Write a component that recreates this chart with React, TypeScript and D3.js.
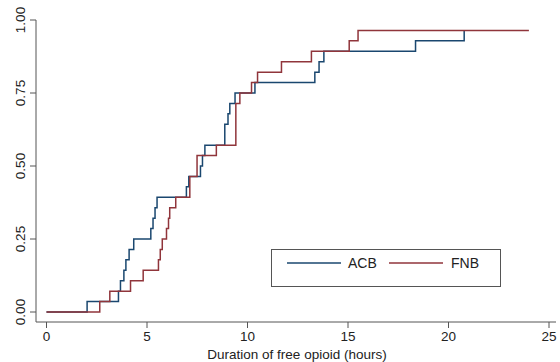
import React, { useEffect, useRef } from "react";
import * as d3 from "d3";

// cumulative proportion, step after each time (hours)
const acbTimes = [0, 2.02, 3.58, 3.68, 3.85, 3.95, 4.11, 4.34, 5.19, 5.3, 5.4, 5.5, 6.96, 7.08, 7.66, 7.76, 7.88, 8.87, 9.03, 9.12, 9.38, 10.37, 13.35, 13.56, 13.8, 18.36, 20.78];
const acbValues = [0, 0.036, 0.071, 0.107, 0.143, 0.179, 0.214, 0.25, 0.286, 0.321, 0.357, 0.393, 0.429, 0.464, 0.5, 0.536, 0.571, 0.643, 0.679, 0.714, 0.75, 0.786, 0.821, 0.857, 0.893, 0.929, 0.964];

const fnbTimes = [0, 2.65, 3.15, 4.18, 4.81, 5.57, 5.66, 5.76, 5.97, 6.07, 6.13, 6.43, 7.13, 7.49, 8.45, 9.42, 9.62, 10.2, 10.5, 11.69, 13.18, 15.06, 15.5, 24];
const fnbValues = [0, 0.036, 0.071, 0.107, 0.143, 0.179, 0.214, 0.25, 0.286, 0.321, 0.357, 0.393, 0.464, 0.536, 0.571, 0.714, 0.75, 0.786, 0.821, 0.857, 0.893, 0.929, 0.964, 0.964];

const xTicks = [0, 5, 10, 15, 20, 25];
const yTicks = [0, 0.25, 0.5, 0.75, 1];

const series = [
  { name: "ACB", times: acbTimes, values: acbValues, color: "#1a476f" },
  { name: "FNB", times: fnbTimes, values: fnbValues, color: "#90353b" },
];

const App: React.FC = () => {
  const svgRef = useRef<SVGSVGElement | null>(null);

  useEffect(() => {
    if (!svgRef.current) return;
    const svg = d3.select(svgRef.current);
    svg.selectAll("*").remove();

    const font = "'Liberation Sans', Arial, sans-serif";
    const axisColor = "#555";

    const x = d3.scaleLinear().domain([0, 25]).range([46.5, 549]);
    const y = d3.scaleLinear().domain([0, 1]).range([312, 20]);

    const axisLeftX = 36;
    const axisBottomY = 322;

    // y axis
    const yAxis = svg.append("g").attr("transform", `translate(${axisLeftX},0)`);
    yAxis.append("line").attr("y1", 20).attr("y2", axisBottomY).attr("stroke", axisColor);
    yAxis
      .selectAll(".yt")
      .data(yTicks)
      .enter()
      .append("line")
      .attr("x1", -6)
      .attr("x2", 0)
      .attr("y1", (d) => y(d))
      .attr("y2", (d) => y(d))
      .attr("stroke", axisColor);
    svg
      .selectAll(".ylab")
      .data(yTicks)
      .enter()
      .append("text")
      .attr("transform", (d) => `translate(25,${y(d)}) rotate(-90)`)
      .attr("text-anchor", "middle")
      .style("font-family", font)
      .style("font-size", "13.5px")
      .attr("fill", "#222")
      .text((d) => d3.format(".2f")(d));

    // x axis
    const xAxis = svg.append("g").attr("transform", `translate(0,${axisBottomY})`);
    xAxis.append("line").attr("x1", axisLeftX).attr("x2", 556).attr("stroke", axisColor);
    xAxis
      .selectAll(".xt")
      .data(xTicks)
      .enter()
      .append("line")
      .attr("x1", (d) => x(d))
      .attr("x2", (d) => x(d))
      .attr("y1", 0)
      .attr("y2", 6)
      .attr("stroke", axisColor);
    xAxis
      .selectAll(".xlab")
      .data(xTicks)
      .enter()
      .append("text")
      .attr("x", (d) => x(d))
      .attr("y", 19)
      .attr("text-anchor", "middle")
      .style("font-family", font)
      .style("font-size", "13.5px")
      .attr("fill", "#222")
      .text((d) => d);

    svg
      .append("text")
      .attr("x", 297)
      .attr("y", 358.5)
      .attr("text-anchor", "middle")
      .style("font-family", font)
      .style("font-size", "13.5px")
      .attr("fill", "#222")
      .text("Duration of free opioid (hours)");

    // step curves
    const line = d3
      .line<[number, number]>()
      .x((d) => x(d[0]))
      .y((d) => y(d[1]))
      .curve(d3.curveStepAfter);

    series.forEach((s) => {
      const pts: [number, number][] = s.times.map((t, i) => [t, s.values[i]]);
      svg
        .append("path")
        .attr("d", line(pts)!)
        .attr("fill", "none")
        .attr("stroke", s.color)
        .attr("stroke-width", 1.5);
    });

    // legend
    const lg = svg.append("g");
    lg.append("rect")
      .attr("x", 271.5)
      .attr("y", 249.5)
      .attr("width", 229)
      .attr("height", 37)
      .attr("fill", "white")
      .attr("stroke", axisColor);
    const items = [
      { ...series[0], x1: 287, tx: 348 },
      { ...series[1], x1: 389, tx: 451 },
    ];
    items.forEach((it) => {
      lg.append("line")
        .attr("x1", it.x1)
        .attr("x2", it.x1 + 54)
        .attr("y1", 263)
        .attr("y2", 263)
        .attr("stroke", it.color)
        .attr("stroke-width", 1.5);
      lg.append("text")
        .attr("x", it.tx)
        .attr("y", 268)
        .style("font-family", font)
        .style("font-size", "14px")
        .attr("fill", "#222")
        .text(it.name);
    });
  }, []);

  return (
    <svg
      ref={svgRef}
      width={560}
      height={362}
      style={{ position: "absolute", left: 0, top: 0, background: "white" }}
    ></svg>
  );
};

export default App;
